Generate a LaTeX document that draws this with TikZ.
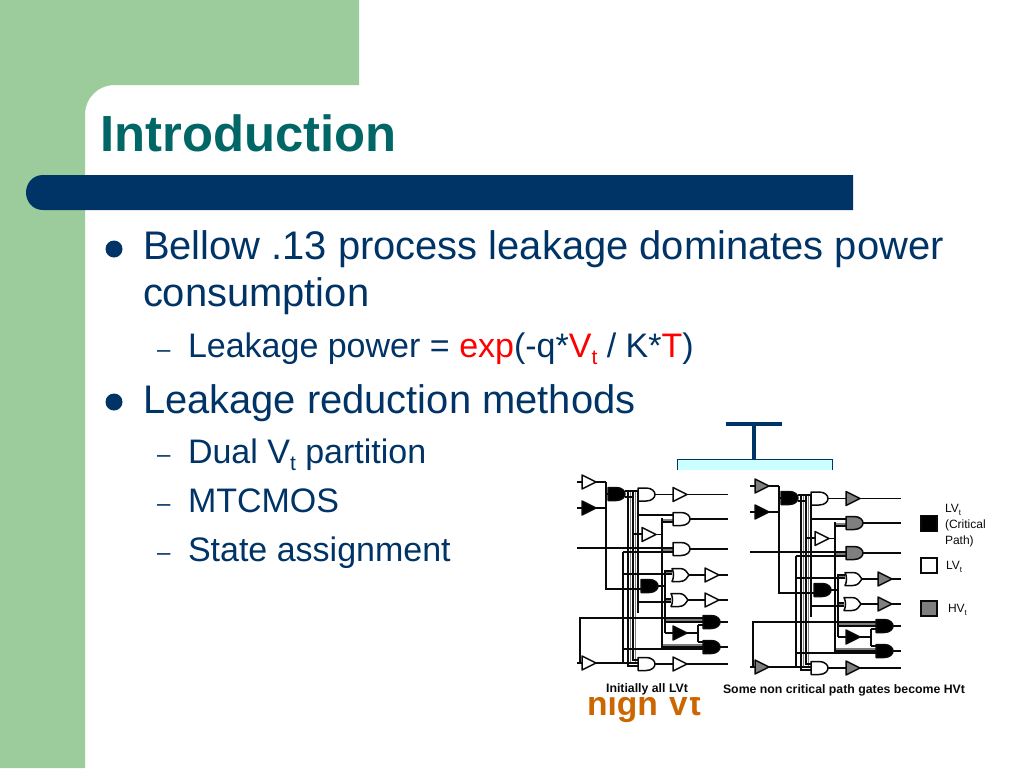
\documentclass[tikz,border=0pt]{standalone}
\usepackage{fontspec}
\setmainfont{Liberation Sans}
\definecolor{navy}{HTML}{003366}
\definecolor{sage}{HTML}{9CCC9C}
\definecolor{teal2}{HTML}{006666}
\definecolor{cyanbox}{HTML}{CCFFFF}
\definecolor{orng}{HTML}{CC6600}
\definecolor{hvgrey}{HTML}{7F7F7F}
\definecolor{ink}{HTML}{0A0A0A}
\newcommand{\fs}[1]{\fontsize{#1}{#1}\selectfont}
\newcommand{\sbt}{\raisebox{-0.22em}{\fs{21}t}}
\newcommand{\lsub}{\raisebox{-0.25em}{\fs{8}t}}
\tikzset{
  txt/.style={anchor=base west,inner sep=0pt,outer sep=0pt},
  body/.style={txt,text=navy,font=\fs{39.9}},
  subb/.style={txt,text=navy,font=\fs{34}},
  capt/.style={txt,text=ink,font=\bfseries\fs{12.3}},
  leg/.style={txt,text=ink,font=\fs{12}},
  wire/.style={draw=ink,line width=1.5pt},
  gatel/.style={draw=ink,line width=1.5pt,line join=round},
  legbox/.style={draw=ink,line width=1.5pt},
}
% buffer: x, y of the left edge middle, fill colour, coordinate name
\newcommand{\buf}[4]{%
  \path[gatel,fill=#3] (#1,#2-7) -- (#1,#2+7) -- (#1+14,#2) -- cycle;
  \coordinate (#4-i) at (#1,#2);
  \coordinate (#4-o) at (#1+14,#2);}
\newcommand{\andg}[4]{%
  \path[gatel,fill=#3] (#1,#2-6.5) -- (#1+8,#2-6.5) .. controls (#1+14,#2-6.5) and (#1+17,#2-3) .. (#1+17,#2)
     .. controls (#1+17,#2+3) and (#1+14,#2+6.5) .. (#1+8,#2+6.5) -- (#1,#2+6.5) -- cycle;
  \coordinate (#4-i) at (#1,#2);
  \coordinate (#4-o) at (#1+17,#2);}
\newcommand{\org}[4]{%
  \path[gatel,fill=#3] (#1,#2-6.5) -- (#1+8,#2-6.5) .. controls (#1+13,#2-6.5) and (#1+15,#2-3) .. (#1+17,#2)
     .. controls (#1+15,#2+3) and (#1+13,#2+6.5) .. (#1+8,#2+6.5) -- (#1,#2+6.5) .. controls (#1+2,#2+3) and (#1+2,#2-3) .. (#1,#2-6.5) -- cycle;
  \coordinate (#4-i) at (#1,#2);
  \coordinate (#4-o) at (#1+17,#2);}
% one circuit panel: #1 prefix, #2 buffer fill, #3 fill of gates in rows 2 and 3
\newcommand{\panel}[3]{%
  % bus
  \draw[draw=hvgrey,line width=1.6pt] (630.5,491) -- (630.5,662) (635.5,491) -- (635.5,662);
  \draw[wire] (623,552) -- (623,664);
  \draw[wire] (628,491) -- (628,666) -- (638,666);
  \draw[wire] (633,491) -- (633,660) -- (638,660);
  \draw[wire] (638,491) -- (638,613);
  \draw[wire] (625,491) -- (638,491) (625,497) -- (633,497);
  % wires behind
  \draw[wire] (577,548) -- (673,548);
  \draw[wire] (623,552) -- (673,552);
  \draw[draw=hvgrey,line width=1.6pt] (662,550) -- (673,550) (662,520) -- (673,520) (664,573) -- (672,573) (664,601) -- (671,601) (664,620) -- (703,620) (662,645) -- (703,645);
  \draw[wire] (622,574) -- (672,574);
  \draw[wire] (638,515) -- (673,515);
  \draw[wire] (662,522) -- (673,522);
  \draw[wire] (662,518) -- (662,647) -- (703,647);
  \draw[wire] (623,649) -- (703,649);
  \draw[wire] (638,602) -- (671,602);
  \draw[wire] (664,571) -- (672,571);
  \draw[wire] (664,599) -- (671,599);
  \draw[wire] (665,571) -- (665,633);
  \draw[wire] (665,622) -- (703,622);
  \draw[wire] (580,663) -- (580,618) -- (703,618);
  \draw[wire] (606,482) -- (606,589) -- (641,589);
  \draw[wire] (633,534) -- (642,534);
  \draw[wire] (577,482) -- (582,482) (595,482) -- (606,482);
  \draw[wire] (577,508) -- (582,508) (595,508) -- (606,508);
  \draw[wire] (606,494) -- (608,494);
  \draw[wire] (577,663) -- (638,663);
  % gates
  \buf{582}{482}{#2}{#1b1}
  \buf{582}{508}{black}{#1b2}
  \andg{608}{494}{black}{#1g1}
  \andg{638}{494.5}{white}{#1a1}
  \buf{673}{494.5}{#2}{#1o1}
  \andg{673}{519}{#3}{#1a2}
  \buf{642}{534.5}{white}{#1bm}
  \andg{673}{549}{#3}{#1a3}
  \org{672}{575}{white}{#1a4}
  \buf{705}{575}{#2}{#1o4}
  \andg{641}{586}{black}{#1g2}
  \org{671}{600}{white}{#1a5}
  \buf{705}{600}{#2}{#1o5}
  \andg{703}{622}{black}{#1g3}
  \buf{673}{633}{black}{#1bk}
  \andg{703}{647}{black}{#1g4}
  \buf{582}{663}{#2}{#1b3}
  \andg{638}{664}{white}{#1a8}
  \buf{673}{664}{#2}{#1o8}
  % connectors
  \draw[wire] (#1a1-o) -- (#1o1-i);
  \draw[wire] (#1o1-o) -- ++(41,0);
  \draw[wire] (#1a2-o) -- ++(38,0);
  \draw[wire] (#1a3-o) -- ++(38,0);
  \draw[wire] (#1a4-o) -- (#1o4-i);
  \draw[wire] (#1o4-o) -- ++(9,0);
  \draw[wire] (#1a5-o) -- (#1o5-i);
  \draw[wire] (#1o5-o) -- ++(9,0);
  \draw[wire] (#1g3-o) -- ++(8,0);
  \draw[wire] (#1g4-o) -- ++(8,0);
  \draw[wire] (#1a8-o) -- (#1o8-i);
  \draw[wire] (#1o8-o) -- ++(41,0);
  \draw[wire] (#1bm-o) -- ++(7,0);
  \draw[wire] (#1g2-o) -- ++(8,0);
  \draw[wire] (#1bk-i) -- ++(-8,0);
  \draw[wire] (#1bk-o) -- ++(11,0);
  \draw[wire] (698,625) -- (698,642);
  \draw[wire] (698,625) -- (703,625) (698,642) -- (703,642);
}
\begin{document}
\begin{tikzpicture}[x=1pt,y=-1pt]
\useasboundingbox (0,0) rectangle (1024,768);
\fill[white] (0,0) rectangle (1024,768);
% template
\fill[sage] (0,0) -- (359,0) -- (359,85) -- (115,85) .. controls (98,85) and (85,98) .. (85,115) -- (85,768) -- (0,768) -- cycle;
\fill[navy] (853,175) -- (43,175) .. controls (33,175) and (26,183) .. (26,192.5) .. controls (26,202) and (33,210) .. (43,210) -- (853,210) -- cycle;
\node[txt,text=teal2,font=\bfseries\fs{50.8}] (title) at (100.5,151) {Introduction};
% body
\fill[navy] (114,249) circle (8.5);
\node[body] (l1) at (143,259) {Bellow .13 process leakage dominates power};
\node[body] (l1b) at (143,306) {consumption};
\node[subb,font=\fs{24}] (d1) at (157,357) {–};
\node[subb] (l2) at (188,357) {Leakage power = \textcolor{red}{exp}(-q*\textcolor{red}{V\sbt} / K*\textcolor{red}{T})};
\fill[navy] (114,402) circle (8.5);
\node[body] (l3) at (143,413) {Leakage reduction methods};
\node[subb,font=\fs{24}] (d2) at (157,462) {–};
\node[subb] (l4) at (188,463) {Dual V\sbt{} partition};
\node[subb,font=\fs{24}] (d3) at (157,511) {–};
\node[subb] (l5) at (188,512) {MTCMOS};
\node[subb,font=\fs{24}] (d4) at (157,560) {–};
\node[subb] (l6) at (188,561) {State assignment};
% clipped items behind the picture
\draw[navy,line width=4pt] (725.5,424) -- (782,424) (754,424) -- (754,460);
\fill[cyanbox] (677,459) rectangle (832,472);
\draw[navy,line width=0.8pt] (677,470) -- (677,459) -- (832,459) -- (832,470);
\node[txt,text=orng,font=\bfseries\fs{33.6}] (hv) at (587,715) {high Vt};
\fill[white] (570,470) rectangle (975,697);
% circuits
\panel{L}{white}{white}
\begin{scope}[shift={(173,4)}]
\panel{R}{hvgrey}{hvgrey}
\end{scope}
% captions
\node[capt,anchor=base] (c1) at (647,692) {Initially all LVt};
\node[capt,anchor=base] (c2) at (844,693) {Some non critical path gates become HVt};
% legend
\draw[legbox,fill=black] (921,515.5) rectangle (937,531.5);
\draw[legbox,fill=white] (921,558) rectangle (937,573);
\draw[legbox,fill=hvgrey] (921,601) rectangle (937,616);
\node[leg] (t1) at (945,512) {LV\lsub};
\node[leg] (t2) at (945,528) {(Critical};
\node[leg] (t3) at (945,544) {Path)};
\node[leg] (t4) at (946,569) {LV\lsub};
\node[leg] (t5) at (948,612) {HV\lsub};
\end{tikzpicture}
\end{document}
